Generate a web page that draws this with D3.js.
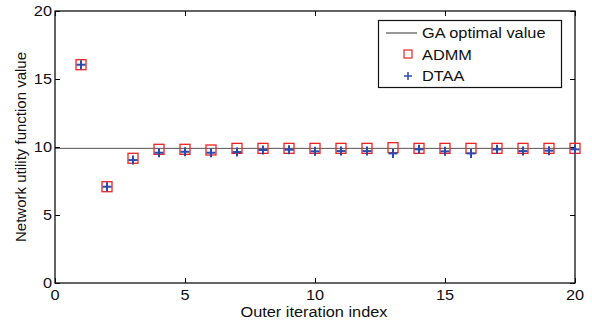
<!DOCTYPE html>
<html><head><meta charset="utf-8">
<script src="https://cdn.jsdelivr.net/npm/d3@7"></script>
<style>body{margin:0;background:#fff}svg{display:block}text{font-family:"Liberation Sans",Arial,sans-serif}</style>
</head><body><svg id="c" width="592" height="320"></svg>
<script>
const iterations = d3.range(1, 21);
const admm = [16.05, 7.08, 9.17, 9.83, 9.83, 9.78, 9.9, 9.9, 9.9, 9.9, 9.9, 9.9, 9.95, 9.9, 9.9, 9.9, 9.9, 9.9, 9.9, 9.9];
const dtaa = [16.05, 7.08, 9.04, 9.58, 9.65, 9.58, 9.63, 9.78, 9.8, 9.68, 9.7, 9.7, 9.53, 9.83, 9.68, 9.53, 9.83, 9.7, 9.73, 9.83];
const gaOptimal = 9.9;
const xTicks = [0, 5, 10, 15, 20];
const yTicks = [0, 5, 10, 15, 20];
const legendLabels = ["GA optimal value", "ADMM", "DTAA"];

const svg = d3.select("#c");
const L = 55, R = 575, T = 11, B = 283;
const x = d3.scaleLinear().domain([0, 20]).range([L, R]);
const y = d3.scaleLinear().domain([0, 20]).range([B, T]);
const fs = 15, sx = 1.09, col = "#111";

// GA line
svg.append("line").attr("x1", x(0)).attr("x2", x(20)).attr("y1", y(gaOptimal)).attr("y2", y(gaOptimal))
  .attr("stroke", "#555").attr("stroke-width", 1);

// Axes (inward ticks on all sides)
const tk = 5;
svg.append("g").attr("transform", `translate(0,${B})`)
  .call(d3.axisBottom(x).tickValues(xTicks).tickSize(-tk).tickFormat("").tickSizeOuter(0))
  .call(g => g.select(".domain").remove());
svg.append("g").attr("transform", `translate(0,${T})`)
  .call(d3.axisTop(x).tickValues(xTicks).tickSize(-tk).tickFormat("").tickSizeOuter(0))
  .call(g => g.select(".domain").remove());
svg.append("g").attr("transform", `translate(${L},0)`)
  .call(d3.axisLeft(y).tickValues(yTicks).tickSize(-tk).tickFormat("").tickSizeOuter(0))
  .call(g => g.select(".domain").remove());
svg.append("g").attr("transform", `translate(${R},0)`)
  .call(d3.axisRight(y).tickValues(yTicks).tickSize(-tk).tickFormat("").tickSizeOuter(0))
  .call(g => g.select(".domain").remove());
svg.append("rect").attr("x", L).attr("y", T).attr("width", R - L).attr("height", B - T)
  .attr("fill", "none").attr("stroke", col).attr("stroke-width", 1.3);

// Tick labels (slightly wide text, as in the reference)
svg.append("g").selectAll("text").data(xTicks).join("text")
  .attr("transform", d => `translate(${x(d)},300) scale(${sx},1)`)
  .attr("text-anchor", "middle").attr("font-size", fs).attr("fill", col).text(d => d);
svg.append("g").selectAll("text").data(yTicks).join("text")
  .attr("transform", d => `translate(52,${y(d)}) scale(${sx},1)`)
  .attr("text-anchor", "end").attr("dy", "0.35em").attr("font-size", fs).attr("fill", col).text(d => d);

// Markers
const sq = 10, pl = 4.5;
svg.append("g").selectAll("rect").data(iterations).join("rect")
  .attr("x", d => x(d) - sq / 2).attr("y", (d, i) => y(admm[i]) - sq / 2)
  .attr("width", sq).attr("height", sq).attr("fill", "none").attr("stroke", "#ee2222").attr("stroke-width", 1.3);
const pg = svg.append("g").attr("stroke", "#2a4bab").attr("stroke-width", 2);
iterations.forEach((d, i) => {
  pg.append("line").attr("x1", x(d) - pl).attr("x2", x(d) + pl).attr("y1", y(dtaa[i])).attr("y2", y(dtaa[i]));
  pg.append("line").attr("x1", x(d)).attr("x2", x(d)).attr("y1", y(dtaa[i]) - pl).attr("y2", y(dtaa[i]) + pl);
});

// Titles
svg.append("text").attr("transform", `translate(${(L + R) / 2 - 1},316.5) scale(${sx},1)`).attr("text-anchor", "middle").attr("font-size", fs).attr("fill", col).text("Outer iteration index");
svg.append("text").attr("transform", `translate(26,147) rotate(-90)`).attr("text-anchor", "middle").attr("font-size", fs).attr("fill", col).text("Network utility function value");

// Legend
const lg = svg.append("g");
lg.append("rect").attr("x", 378.5).attr("y", 20.5).attr("width", 183).attr("height", 67).attr("fill", "#fff").attr("stroke", col).attr("stroke-width", 1.2);
lg.append("line").attr("x1", 386).attr("x2", 417).attr("y1", 33).attr("y2", 33).attr("stroke", "#333").attr("stroke-width", 1);
lg.append("rect").attr("x", 404).attr("y", 50).attr("width", 8).attr("height", 8).attr("fill", "none").attr("stroke", "#ee2222").attr("stroke-width", 1.2);
lg.append("line").attr("x1", 404).attr("x2", 412).attr("y1", 76).attr("y2", 76).attr("stroke", "#2a4bab").attr("stroke-width", 1.5);
lg.append("line").attr("x1", 408).attr("x2", 408).attr("y1", 72).attr("y2", 80).attr("stroke", "#2a4bab").attr("stroke-width", 1.5);
[33, 54.5, 76].forEach((yy, i) => lg.append("text").attr("transform", `translate(422,${yy}) scale(${sx},1)`).attr("dy", "0.35em").attr("font-size", fs).attr("fill", col).text(legendLabels[i]));
</script></body></html>
